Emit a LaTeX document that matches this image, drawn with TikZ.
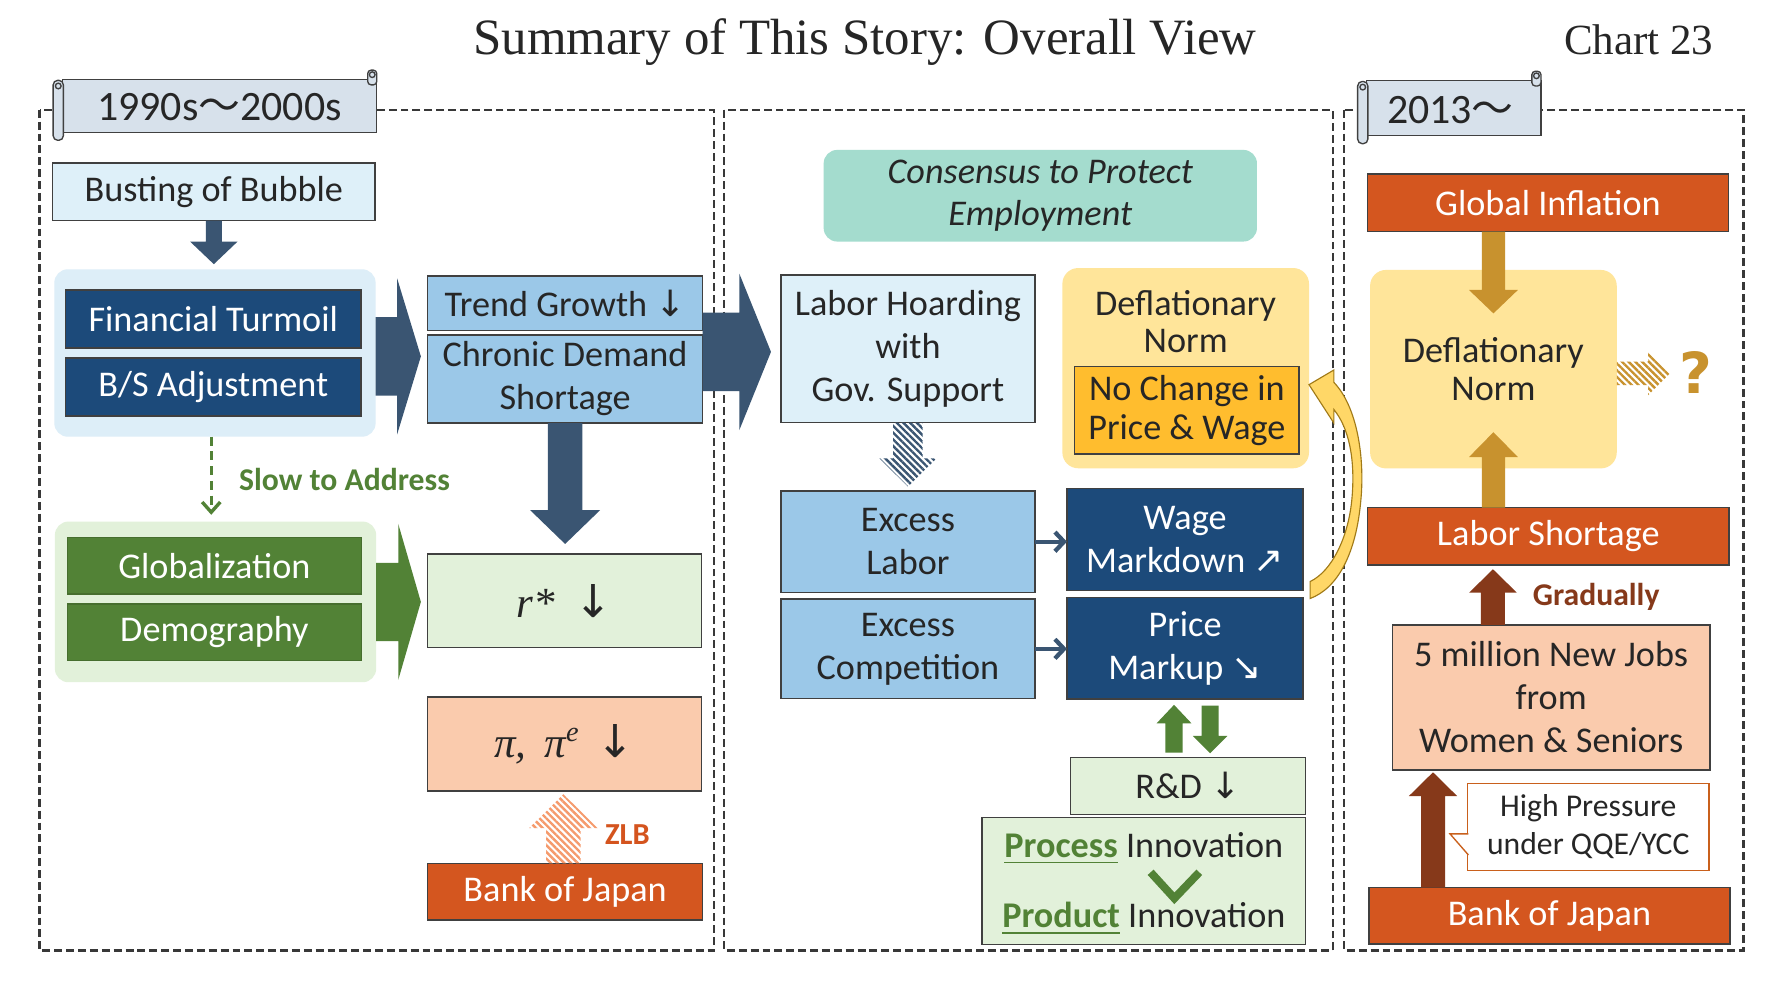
\documentclass[tikz,border=0pt]{standalone}
\usepackage{fontspec}
\setmainfont{Carlito}
\newfontfamily\titlefont{Liberation Serif}
\newfontfamily\symf{DejaVu Sans}
\newfontfamily\cjk{Noto Sans CJK JP}
\usetikzlibrary{arrows.meta,calc,patterns.meta}

\definecolor{txt}{HTML}{262626}
\definecolor{boxline}{HTML}{404040}
\definecolor{panelgray}{HTML}{383838}
\definecolor{slate}{HTML}{3A5572}
\definecolor{navy}{HTML}{1C4A7A}
\definecolor{icebg}{HTML}{DEF0F9}
\definecolor{trayblue}{HTML}{DDEEF8}
\definecolor{skyblue}{HTML}{9BC8E8}
\definecolor{leaf}{HTML}{528236}
\definecolor{palegreen}{HTML}{E2F1DA}
\definecolor{peach}{HTML}{FACBAD}
\definecolor{bojred}{HTML}{D4561F}
\definecolor{mint}{HTML}{A4DCCE}
\definecolor{butter}{HTML}{FFE59A}
\definecolor{amber}{HTML}{FFBD2E}
\definecolor{gold}{HTML}{C8922E}
\definecolor{brown}{HTML}{86391A}
\definecolor{callout}{HTML}{C9601C}
\definecolor{zlbstripe}{HTML}{F59A6C}
\definecolor{zlbtext}{HTML}{D4541E}
\definecolor{bannerfill}{HTML}{D7E1EB}
\definecolor{curvefill}{HTML}{FFD767}
\definecolor{curveline}{HTML}{A17A17}

\newcommand\arrdown{{\symf ↓}}
\newcommand\arrne{{\symf ↗}}
\newcommand\arrse{{\symf ↘}}
\newcommand\greenul[1]{\textcolor{leaf}{\sbox0{\bfseries #1}\rlap{\rule[-5pt]{\wd0}{1.5pt}}\usebox0}}

\newcommand\blockarrow[6]{%
  \coordinate (ba-s) at (#2);
  \coordinate (ba-t) at (#3);
  \coordinate (ba-h) at ($(ba-t)!#6!(ba-s)$);
  \path[#1] ($(ba-s)!#4!90:(ba-t)$) -- ($(ba-h)!#4!90:(ba-t)$)
    -- ($(ba-h)!#5!90:(ba-t)$) -- (ba-t) -- ($(ba-h)!#5!-90:(ba-t)$)
    -- ($(ba-h)!#4!-90:(ba-t)$) -- ($(ba-s)!#4!-90:(ba-t)$) -- cycle;}

\newcommand\scrollbanner[4]{%
  \draw[bannerline] (#1+8,#3) rectangle (#2,#4);
  \draw[bannerline,rounded corners=4pt] (#1,#3+1) rectangle (#1+9,#4+7);
  \draw[bannerline] (#1+4.5,#3+6) circle (2.5);
  \draw[bannerline,rounded corners=3pt] (#2-8,#3-8) rectangle (#2,#3+5);
  \draw[bannerline] (#2-4,#3-4) circle (2.5);}

\begin{document}
\begin{tikzpicture}[x=1pt,y=-1pt,
    box/.style={draw=boxline,line width=1.3pt,inner sep=0pt,outer sep=0pt,
      text=txt,align=center,font=\fontsize{32}{38}\selectfont},
    navybox/.style={box,fill=navy,text=white},
    redbox/.style={box,fill=bojred,text=white},
    leafbox/.style={box,fill=leaf,draw=leaf!85!black,text=white},
    tray/.style={rounded corners=12pt,inner sep=0pt,outer sep=0pt,text=txt,align=center},
    wh/.style 2 args={minimum width=#1pt,minimum height=#2pt},
    panel/.style={draw=panelgray,line width=2pt,dash pattern=on 7pt off 3.5pt},
    bannerline/.style={draw=boxline,fill=bannerfill,line width=1.2pt},
    tag/.style={font=\bfseries\fontsize{28}{32}\selectfont,inner sep=0pt},
    thinarrow/.style={draw=slate,line width=3.8pt,-{Straight Barb[length=8pt,width=17pt]}},
    slowarrow/.style={draw=leaf,line width=3pt,dash pattern=on 8pt off 5pt,
      -{Straight Barb[length=9pt,width=16pt]}},
    hatch/.style={pattern={Lines[angle=-45,distance=4.2pt,line width=2.1pt]},pattern color=#1}]
    \fill[white] (0,0) rectangle (1568,870);
    \node[anchor=base,text=txt,font=\titlefont\fontsize{45}{50}\selectfont] (title) at (764.5,48) {Summary of This Story: Overall View};
    \node[anchor=base,text=txt,font=\titlefont\fontsize{38}{44}\selectfont] (chart) at (1448.5,48) {Chart 23};

    \draw[panel] (35,97) rectangle (631,840);
    \draw[panel] (640,97) rectangle (1178,840);
    \draw[panel] (1188,97) rectangle (1541,840);

    \scrollbanner{47}{333}{70}{117}
    \scrollbanner{1200}{1362}{71}{120}
    \node[anchor=base,text=txt,font=\fontsize{37}{40}\selectfont] (era1) at (194,106.6) {1990s{\cjk 〜}2000s};
    \node[anchor=base,text=txt,font=\fontsize{37}{40}\selectfont] (era3) at (1282,109) {2013{\cjk 〜}};

    \node[box,wh={285}{51},fill=icebg] (bubble) at (189,169.5) {Busting of Bubble};
    \node[tray,wh={284}{148},fill=trayblue] (fintray) at (190,312) {};
    \node[navybox,wh={261}{51}] (fin) at (188.5,282) {Financial Turmoil};
    \node[navybox,wh={261}{51}] (bs) at (188.5,342) {B/S Adjustment};
    \node[box,wh={243}{48},fill=skyblue] (trend) at (499.5,268) {Trend Growth \arrdown};
    \node[box,wh={243}{78},fill=skyblue] (chronic) at (499.5,335) {Chronic Demand\\Shortage};
    \node[tag,text=leaf] (slow) at (304.5,424) {Slow to Address};
    \node[tray,wh={284}{142},fill=palegreen] (gltray) at (190.5,532) {};
    \node[leafbox,wh={260}{50}] (glob) at (189.5,500) {Globalization};
    \node[leafbox,wh={260}{50}] (demo) at (189.5,559) {Demography};
    \node[box,wh={242}{83},fill=palegreen] (rstar) at (499,531)
      {{\titlefont\itshape\fontsize{38}{40}\selectfont r*}\hspace{18pt}{\symf\fontsize{40}{40}\selectfont ↓}};
    \node[box,wh={242}{83},fill=peach] (infl) at (499,657.5)
      {{\titlefont\itshape\fontsize{38}{40}\selectfont π,\hspace{16pt}π\raisebox{14pt}{\fontsize{25}{25}\selectfont e}}\hspace{16pt}{\symf\fontsize{40}{40}\selectfont ↓}};
    \node[tag,text=zlbtext,font=\bfseries\fontsize{27}{30}\selectfont] (zlb) at (554.5,738) {ZLB};
    \node[redbox,wh={243}{50}] (boj1) at (499.5,788) {Bank of Japan};

    \node[tray,wh={383}{81},fill=mint,font=\itshape\fontsize{32}{37}\selectfont] (consensus) at (919.5,173) {Consensus to Protect\\Employment};
    \node[box,wh={224.5}{130.6},fill=icebg] (hoard) at (802.5,308.3) {Labor Hoarding\\with\\Gov. Support};
    \node[tray,rounded corners=14pt,wh={218}{177},fill=butter] (deflbox) at (1048,325.4) {};
    \node[text=txt,align=center,font=\fontsize{32}{33}\selectfont] (defltxt) at (1048,284) {Deflationary\\Norm};
    \node[box,wh={198.3}{77.3},fill=amber,font=\fontsize{32}{35}\selectfont] (nochange) at (1049,362.7) {No Change in\\Price \& Wage};
    \node[box,wh={224.5}{89.5},fill=skyblue] (exlab) at (802.5,478.8) {Excess\\Labor};
    \node[box,wh={224.5}{88},fill=skyblue] (excomp) at (802.5,573.5) {Excess\\Competition};
    \node[navybox,wh={208.7}{90}] (wage) at (1047.4,477) {Wage\\Markdown \arrne};
    \node[navybox,wh={208.7}{90}] (price) at (1047.4,573) {Price\\Markup \arrse};
    \node[box,wh={208}{50.4},fill=palegreen] (rnd) at (1050,694.6) {R\&D \arrdown};
    \node[box,wh={286}{112.2},fill=palegreen] (innov) at (1011,778.5) {};
    \node[text=txt,font=\fontsize{32}{38}\selectfont] (proc) at (1011,749.5) {\greenul{Process} Innovation};
    \node[text=txt,font=\fontsize{32}{38}\selectfont] (prod) at (1011,811.4) {\greenul{Product} Innovation};

    \node[redbox,wh={318.8}{50.8}] (glinf) at (1368.2,179.4) {Global Inflation};
    \node[tray,rounded corners=14pt,wh={218}{175.4},fill=butter,font=\fontsize{32}{33}\selectfont] (defl) at (1320,326.3) {Deflationary\\Norm};
    \node[text=gold,inner sep=0pt,font=\symf\bfseries\fontsize{50}{50}\selectfont] (qmark) at (1499,329) {?};
    \node[redbox,wh={319.5}{50.7}] (labsh) at (1368.5,474) {Labor Shortage};
    \node[tag,text=brown] (grad) at (1410.8,527.4) {Gradually};
    \node[box,wh={280.8}{128.2},fill=peach] (jobs) at (1371,616.5) {5 million New Jobs\\from\\Women \& Seniors};
    \node[box,wh={213.3}{77.2},fill=white,draw=callout,font=\fontsize{28}{33.8}\selectfont] (qqe) at (1403.85,730.9) {High Pressure\\under QQE/YCC};
    \filldraw[fill=white,draw=callout,line width=1.2pt] ($(qqe.west)+(0.7,6.1)$) -- ($(qqe.west)+(-15.6,6.1)$) -- ($(qqe.west)+(0.7,24.8)$);
    \node[redbox,wh={319}{50}] (boj2) at (1369.5,809.5) {Bank of Japan};

    \blockarrow{fill=slate}{bubble.south}{$(bubble.south |- fintray.north)+(0,-4.5)$}{7pt}{21pt}{20pt}
    \blockarrow{fill=slate}{$(fintray.east)+(0,3)$}{$(trend.west |- fintray.east)+(-6,3)$}{34.6pt}{69pt}{21pt}
    \blockarrow{fill=slate}{chronic.south}{$(chronic.south |- rstar.north)+(0,-8.7)$}{15.2pt}{31pt}{30pt}
    \blockarrow{fill=leaf}{gltray.east}{$(rstar.west |- gltray.east)+(-6,0)$}{34.6pt}{69pt}{20pt}
    \draw[slowarrow] ($(fintray.south)+(-3.3,0)$) -- ($(gltray.north)+(-3.8,-6)$);
    \blockarrow{hatch=zlbstripe}{$(boj1.north)+(-1.5,0)$}{$(infl.south)+(-1,3)$}{15.3pt}{30.2pt}{30pt}

    \blockarrow{fill=slate}{$(chronic.east |- hoard.west)+(0,2.7)$}{$(hoard.west)+(-8.8,2.7)$}{34.6pt}{69.2pt}{28pt}
    \blockarrow{hatch=slate}{hoard.south}{$(hoard.south |- exlab.north)+(0,-4)$}{13pt}{25.3pt}{25pt}
    \draw[thinarrow] (exlab.east) -- (exlab.east -| wage.west);
    \draw[thinarrow] (excomp.east) -- (excomp.east -| price.west);
    \blockarrow{fill=leaf}{$(rnd.north)+(-12.3,-4.2)$}{$(rnd.north |- price.south)+(-12.3,5)$}{7.6pt}{15.4pt}{16.3pt}
    \blockarrow{fill=leaf}{$(price.south)+(22.2,5.7)$}{$(price.south |- rnd.north)+(22.2,-3.6)$}{7.5pt}{15.2pt}{15.3pt}
    \draw[leaf,line width=7pt] ($(innov.center)+(6,-7.5)$) -- ($(innov.center)+(27,15.5)$) -- ($(innov.center)+(49,-7.5)$);
    \filldraw[fill=curvefill,draw=curveline,line width=1pt]
      (1157,340) -- (1179,327) -- (1179,338)
      .. controls (1200,360) and (1206,405) .. (1203,440)
      .. controls (1199,490) and (1182,520) .. (1158,529)
      -- (1158,514)
      .. controls (1177,505) and (1192,475) .. (1195,440)
      .. controls (1198,405) and (1192,378) .. (1179,362)
      -- (1179,374) -- cycle;

    \blockarrow{fill=gold}{defl.north |- glinf.south}{$(defl.north)+(0,38.4)$}{10.3pt}{21.6pt}{20.7pt}
    \blockarrow{fill=gold}{defl.south |- labsh.north}{$(defl.south)+(0,-32)$}{10.3pt}{21.6pt}{22pt}
    \blockarrow{hatch=gold}{$(defl.east)+(0,3.7)$}{$(defl.east)+(47,3.7)$}{10.3pt}{19.2pt}{19.2pt}
    \blockarrow{fill=brown}{$(jobs.north)+(-51.4,0)$}{$(labsh.south)+(-48.9,3.8)$}{10.6pt}{21pt}{20.6pt}
    \blockarrow{fill=brown}{$(boj2.north)+(-102.9,0)$}{$(jobs.south)+(-104.4,2)$}{10.6pt}{21.3pt}{21pt}
\end{tikzpicture}
\end{document}
